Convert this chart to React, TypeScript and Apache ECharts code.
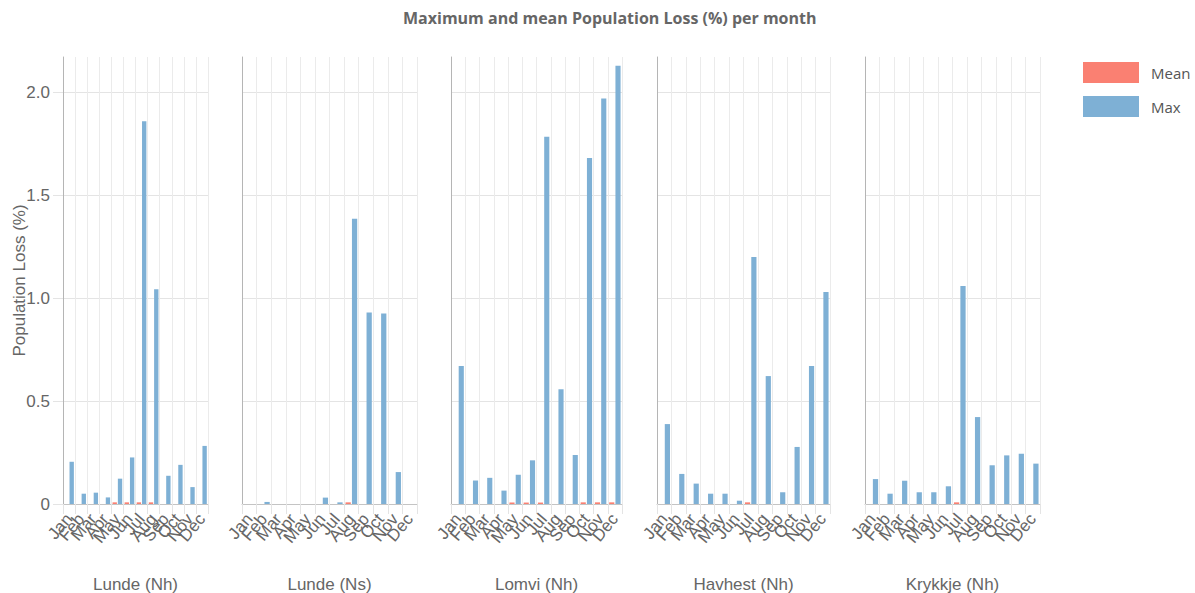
import React, { useEffect, useRef } from "react";
import * as echarts from "echarts";

// Months on every panel's category axis
const months = ["Jan", "Feb", "Mar", "Apr", "May", "Jun", "Jul", "Aug", "Sep", "Oct", "Nov", "Dec"];

// One panel per colony
const colonies = ["Lunde (Nh)", "Lunde (Ns)", "Lomvi (Nh)", "Havhest (Nh)", "Krykkje (Nh)"];

// Population loss (%) per month
const meanLundeNh = [0, 0, 0, 0, 0.008, 0.008, 0.008, 0.008, 0, 0, 0, 0];
const maxLundeNh = [0.205, 0.05, 0.055, 0.032, 0.123, 0.226, 1.858, 1.042, 0.137, 0.19, 0.082, 0.282];

const meanLundeNs = [0, 0, 0, 0, 0, 0, 0, 0.008, 0, 0, 0, 0];
const maxLundeNs = [0, 0.01, 0, 0, 0, 0.031, 0.008, 1.385, 0.93, 0.925, 0.155, 0];

const meanLomviNh = [0, 0, 0, 0, 0.007, 0.007, 0.007, 0, 0, 0.008, 0.008, 0.008];
const maxLomviNh = [0.67, 0.114, 0.127, 0.065, 0.142, 0.212, 1.783, 0.557, 0.238, 1.68, 1.969, 2.128];

const meanHavhestNh = [0, 0, 0, 0, 0, 0, 0.008, 0, 0, 0, 0, 0];
const maxHavhestNh = [0.388, 0.146, 0.099, 0.05, 0.05, 0.016, 1.199, 0.621, 0.057, 0.277, 0.67, 1.029];

const meanKrykkjeNh = [0, 0, 0, 0, 0, 0, 0.008, 0, 0, 0, 0, 0];
const maxKrykkjeNh = [0.121, 0.05, 0.113, 0.057, 0.057, 0.086, 1.058, 0.422, 0.188, 0.236, 0.244, 0.196];

const meanSeries = [meanLundeNh, meanLundeNs, meanLomviNh, meanHavhestNh, meanKrykkjeNh];
const maxSeries = [maxLundeNh, maxLundeNs, maxLomviNh, maxHavhestNh, maxKrykkjeNh];

const yTicks = [0, 0.5, 1.0, 1.5, 2.0];

// Plot-area placement of each panel
const panelLefts = [63, 242, 451, 657, 865];
const panelWidths = [145, 175, 171, 173, 175];

const MEAN_COLOR = "rgb(250,128,114)";
const MAX_COLOR = "rgb(126,176,213)";
const FONT = "'Liberation Sans', Arial, sans-serif";
const TEXT = "#666";

export default function App() {
  const ref = useRef<HTMLDivElement>(null);

  useEffect(() => {
    if (!ref.current) return;
    const chart = echarts.init(ref.current, undefined, { renderer: "svg" });

    const grids = colonies.map((_, i) => ({
      left: panelLefts[i],
      width: panelWidths[i],
      top: 57,
      height: 447,
      containLabel: false,
      outerBoundsMode: "none",
    }));

    const xAxes = colonies.map((name, i) => ({
      type: "category",
      gridIndex: i,
      data: months,
      name,
      nameLocation: "middle",
      nameGap: 72,
      nameMoveOverlap: false,
      nameTextStyle: { fontFamily: FONT, fontSize: 17, color: TEXT },
      boundaryGap: true,
      axisLine: { show: true, lineStyle: { color: "#c4c4c4", width: 1 } },
      axisTick: { show: true, interval: 0, length: 10, lineStyle: { color: "#e4e4e4" } },
      splitLine: { show: true, interval: 0, lineStyle: { color: "#ebebeb", width: 1 } },
      axisLabel: {
        interval: 0,
        rotate: 50,
        margin: 12,
        fontFamily: FONT,
        fontSize: 17,
        color: TEXT,
      },
    }));

    const yAxes = colonies.map((_, i) => ({
      type: "value",
      gridIndex: i,
      min: yTicks[0],
      max: 2.17,
      interval: 0.5,
      name: i === 0 ? "Population Loss (%)" : "",
      nameLocation: "middle",
      nameGap: 35,
      nameMoveOverlap: false,
      nameTextStyle: { fontFamily: FONT, fontSize: 17, color: TEXT },
      axisLine: { show: true, lineStyle: { color: "#b5b5b5", width: 1 } },
      axisTick: { show: i === 0, length: 10, lineStyle: { color: "#e4e4e4" } },
      splitLine: { show: true, showMaxLine: false, lineStyle: { color: "#e4e4e4", width: 1 } },
      axisLabel: {
        show: i === 0,
        showMaxLabel: false,
        margin: 13,
        fontFamily: FONT,
        fontSize: 17,
        color: TEXT,
        formatter: (v: number) => {
          const t = yTicks.find((k) => Math.abs(k - v) < 1e-6);
          if (t === undefined) return "";
          return t === 0 ? "0" : t.toFixed(1);
        },
      },
    }));

    const series: any[] = [];
    colonies.forEach((_, i) => {
      series.push({
        name: "Mean",
        type: "bar",
        xAxisIndex: i,
        yAxisIndex: i,
        data: meanSeries[i],
        itemStyle: { color: MEAN_COLOR },
        barCategoryGap: "20%",
        barGap: "22%",
      });
      series.push({
        name: "Max",
        type: "bar",
        xAxisIndex: i,
        yAxisIndex: i,
        data: maxSeries[i],
        itemStyle: { color: MAX_COLOR },
        barCategoryGap: "20%",
        barGap: "22%",
      });
    });

    chart.setOption({
      animation: false,
      backgroundColor: "#ffffff",
      title: {
        text: "Maximum and mean Population Loss (%) per month",
        left: 403,
        top: 10,
        padding: 0,
        textStyle: { fontFamily: "'Open Sans', sans-serif", fontSize: 16, fontWeight: "bold", color: TEXT },
      },
      legend: {
        data: ["Mean", "Max"],
        orient: "vertical",
        left: 1083,
        top: 62,
        padding: 0,
        itemWidth: 56,
        itemHeight: 21,
        itemGap: 13,
        icon: "rect",
        textStyle: { fontFamily: "'Open Sans', sans-serif", fontSize: 15, color: "#555", padding: [0, 0, 0, 7] },
      },
      grid: grids,
      xAxis: xAxes,
      yAxis: yAxes,
      series,
    });

    return () => chart.dispose();
  }, []);

  return (
    <div
      ref={ref}
      style={{ position: "fixed", left: 0, top: 0, width: 1195, height: 593, background: "#fff" }}
    />
  );
}
